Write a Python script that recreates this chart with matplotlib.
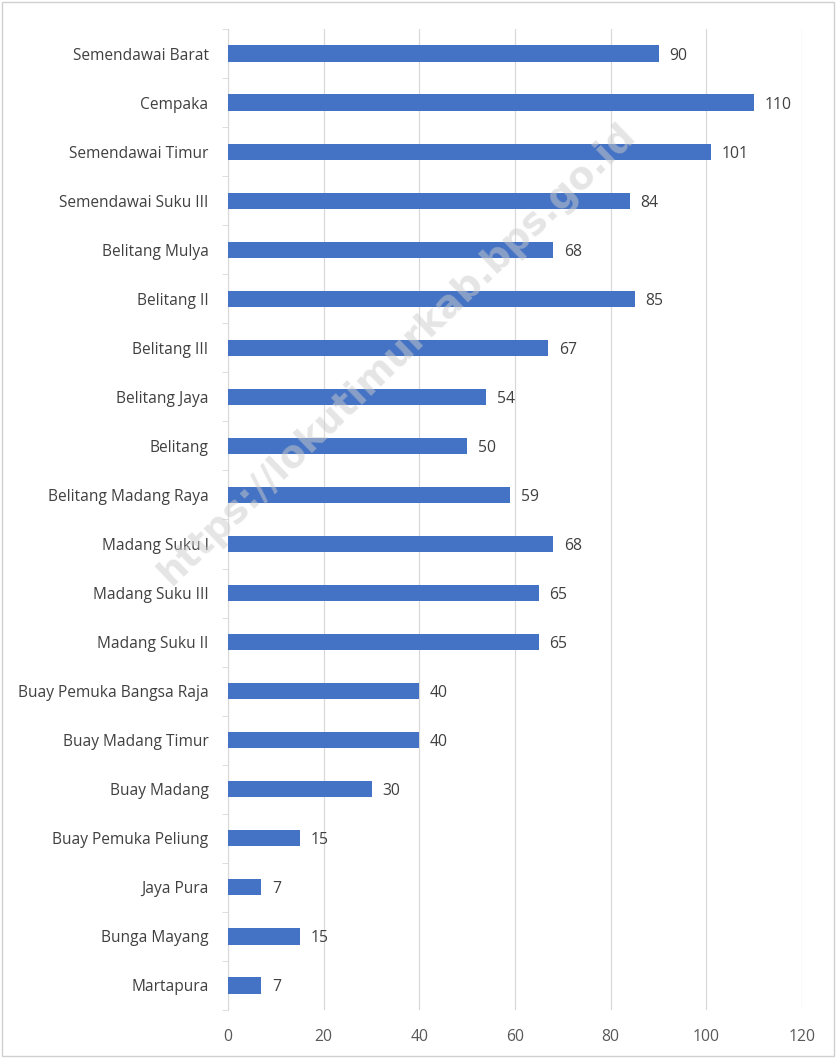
import matplotlib.pyplot as plt
from matplotlib import font_manager

# data (top to bottom as in the picture)
kecamatan = ["Semendawai Barat", "Cempaka", "Semendawai Timur", "Semendawai Suku III",
             "Belitang Mulya", "Belitang II", "Belitang III", "Belitang Jaya", "Belitang",
             "Belitang Madang Raya", "Madang Suku I", "Madang Suku III", "Madang Suku II",
             "Buay Pemuka Bangsa Raja", "Buay Madang Timur", "Buay Madang",
             "Buay Pemuka Peliung", "Jaya Pura", "Bunga Mayang", "Martapura"]
jumlah = [90, 110, 101, 84, 68, 85, 67, 54, 50, 59, 68, 65, 65, 40, 40, 30, 15, 7, 15, 7]
xticks = [0, 20, 40, 60, 80, 100, 120]

names = [f.name for f in font_manager.fontManager.ttflist]
if "Liberation Sans Narrow" in names:
    plt.rcParams['font.family'] = ["Liberation Sans Narrow", "DejaVu Sans"]
else:
    plt.rcParams['font.family'] = ["Open Sans", "DejaVu Sans"]

txt = "#595959"
fig = plt.figure(figsize=(8.36, 10.58), dpi=100)
ax = fig.add_axes([228/836, 1 - 1010/1058, 574/836, 981/1058])

y = list(range(len(kecamatan)))
ax.barh(y, jumlah, height=0.33, color="#4472C4", zorder=3)
for yi, v in zip(y, jumlah):
    ax.text(v + 2.2, yi, str(v), va="center_baseline", ha="left", fontsize=11.3,
            color="#404040", zorder=4)

ax.set_xlim(0, 120)
ax.set_ylim(len(kecamatan) - 0.5, -0.5)
ax.set_yticks(y)
ax.set_yticklabels(kecamatan, fontsize=11.2, color="#404040", va="center_baseline")
ax.set_yticks([i + 0.5 for i in range(-1, len(kecamatan))], minor=True)
ax.tick_params(axis="y", which="major", length=0, pad=14)
ax.tick_params(axis="y", which="minor", length=4, color="#d9d9d9")
ax.set_xticks(xticks)
ax.tick_params(axis="x", length=0, labelsize=11.3, labelcolor=txt, pad=14)
ax.grid(axis="x", color="#d9d9d9", linewidth=0.9, zorder=0)
for s in ["top", "right", "bottom"]:
    ax.spines[s].set_visible(False)
ax.spines["left"].set_color("#d9d9d9")

# watermark
fig.text(0.475, 0.665, "https://lokutimurkab.bps.go.id", fontsize=27, fontweight="bold",
         family="DejaVu Sans", color="#cccccc", alpha=0.5, rotation=44,
         ha="center", va="center", zorder=1)

# frame around the picture
fig.patches.append(plt.Rectangle((0.002, 0.002), 0.996, 0.996, transform=fig.transFigure,
                                 fill=False, edgecolor="#d0d0d0", linewidth=1))

fig.savefig("out.png", dpi=100)
